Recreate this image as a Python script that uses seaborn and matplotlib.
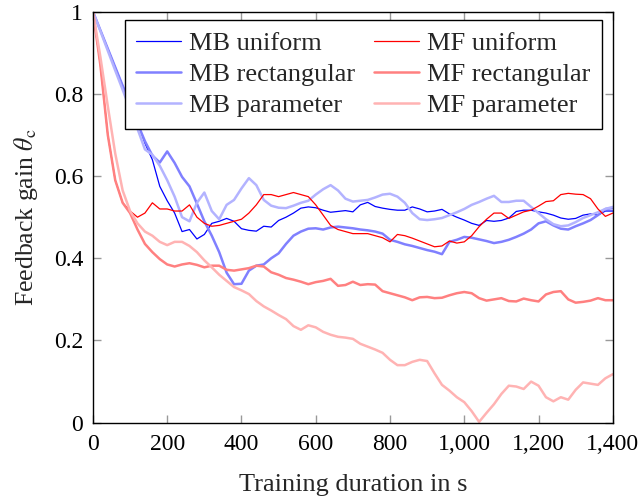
import numpy as np
import pandas as pd
import matplotlib
matplotlib.use("Agg")
import matplotlib.pyplot as plt
import seaborn as sns

# Training time grid (s)
time_s = np.arange(0, 1401, 20)

mb_uniform = [
    1.0, 0.955, 0.91, 0.865, 0.82, 0.775, 0.73, 0.68, 0.64, 0.575,
    0.54, 0.51, 0.465, 0.47, 0.447, 0.458, 0.485, 0.49, 0.497, 0.49,
    0.472, 0.468, 0.466, 0.478, 0.476, 0.492, 0.50, 0.51, 0.522, 0.525,
    0.523, 0.517, 0.512, 0.514, 0.516, 0.513, 0.53, 0.536, 0.526, 0.522,
    0.519, 0.517, 0.517, 0.525, 0.52, 0.513, 0.515, 0.519, 0.508, 0.50,
    0.493, 0.485, 0.48, 0.492, 0.49, 0.492, 0.498, 0.514, 0.517, 0.517,
    0.513, 0.51, 0.505, 0.498, 0.495, 0.497, 0.505, 0.508, 0.505, 0.515,
    0.515,
]
mb_rectangular = [
    1.0, 0.955, 0.91, 0.865, 0.82, 0.775, 0.728, 0.685, 0.65, 0.633,
    0.66, 0.632, 0.598, 0.575, 0.533, 0.49, 0.455, 0.415, 0.365, 0.337,
    0.338, 0.37, 0.382, 0.385, 0.40, 0.412, 0.435, 0.455, 0.465, 0.472,
    0.473, 0.47, 0.475, 0.477, 0.475, 0.473, 0.47, 0.468, 0.465, 0.46,
    0.445, 0.44, 0.434, 0.43, 0.425, 0.42, 0.416, 0.41, 0.44, 0.445,
    0.452, 0.45, 0.446, 0.442, 0.437, 0.44, 0.445, 0.452, 0.46, 0.47,
    0.485, 0.49, 0.48, 0.472, 0.47, 0.478, 0.485, 0.493, 0.505, 0.52,
    0.522,
]
mb_parameter = [
    1.0, 0.953, 0.905, 0.857, 0.81, 0.762, 0.715, 0.665, 0.652, 0.625,
    0.59, 0.55, 0.50, 0.49, 0.535, 0.56, 0.515, 0.495, 0.53, 0.542,
    0.57, 0.595, 0.578, 0.542, 0.528, 0.523, 0.522, 0.528, 0.535, 0.54,
    0.555, 0.568, 0.578, 0.565, 0.545, 0.538, 0.54, 0.542, 0.548, 0.555,
    0.557, 0.55, 0.535, 0.51, 0.495, 0.493, 0.495, 0.498, 0.505, 0.512,
    0.52, 0.53, 0.537, 0.545, 0.552, 0.537, 0.537, 0.54, 0.54, 0.525,
    0.51, 0.495, 0.483, 0.478, 0.48, 0.488, 0.498, 0.505, 0.512, 0.52,
    0.525,
]
mf_uniform = [
    1.0, 0.87, 0.70, 0.59, 0.535, 0.515, 0.50, 0.51, 0.535, 0.52,
    0.52, 0.515, 0.515, 0.53, 0.50, 0.485, 0.478, 0.48, 0.485, 0.49,
    0.495, 0.51, 0.53, 0.555, 0.555, 0.55, 0.555, 0.56, 0.555, 0.55,
    0.53, 0.505, 0.48, 0.47, 0.465, 0.46, 0.46, 0.46, 0.455, 0.45,
    0.44, 0.458, 0.455, 0.449, 0.442, 0.435, 0.428, 0.43, 0.442, 0.437,
    0.44, 0.455, 0.477, 0.495, 0.51, 0.51, 0.497, 0.505, 0.513, 0.517,
    0.527, 0.538, 0.54, 0.555, 0.558, 0.556, 0.555, 0.545, 0.52, 0.502,
    0.51,
]
mf_rectangular = [
    1.0, 0.87, 0.70, 0.59, 0.535, 0.51, 0.47, 0.435, 0.415, 0.398,
    0.385, 0.38, 0.385, 0.388, 0.384, 0.378, 0.382, 0.382, 0.372, 0.37,
    0.373, 0.376, 0.382, 0.38, 0.366, 0.36, 0.352, 0.348, 0.343, 0.337,
    0.342, 0.345, 0.35, 0.333, 0.335, 0.343, 0.335, 0.337, 0.336, 0.32,
    0.315, 0.31, 0.305, 0.298, 0.305, 0.306, 0.303, 0.304, 0.31, 0.315,
    0.318, 0.315, 0.303, 0.297, 0.30, 0.303, 0.296, 0.295, 0.302, 0.298,
    0.295, 0.312, 0.318, 0.32, 0.30, 0.292, 0.294, 0.297, 0.303, 0.298,
    0.298,
]
mf_parameter = [
    1.0, 0.89, 0.77, 0.655, 0.565, 0.515, 0.485, 0.465, 0.455, 0.44,
    0.432, 0.44, 0.44, 0.43, 0.415, 0.395, 0.378, 0.36, 0.345, 0.33,
    0.322, 0.313, 0.296, 0.283, 0.273, 0.262, 0.252, 0.235, 0.226, 0.237,
    0.232, 0.221, 0.214, 0.209, 0.207, 0.204, 0.192, 0.185, 0.178, 0.17,
    0.153, 0.14, 0.14, 0.148, 0.153, 0.15, 0.12, 0.092, 0.078, 0.062,
    0.05, 0.028, 0.002, 0.024, 0.045, 0.07, 0.09, 0.088, 0.082, 0.1,
    0.09, 0.062, 0.052, 0.062, 0.056, 0.08, 0.098, 0.095, 0.092, 0.108,
    0.118,
]

series_names = ["MB uniform", "MB rectangular", "MB parameter",
                "MF uniform", "MF rectangular", "MF parameter"]
series_values = [mb_uniform, mb_rectangular, mb_parameter,
                 mf_uniform, mf_rectangular, mf_parameter]
line_colors = ["#0000ff", "#8080ff", "#b3b3ff",
               "#ff0000", "#ff8080", "#ffb3b3"]
line_widths = [0.9, 1.8, 1.8, 0.9, 1.8, 1.8]

x_ticks = [0, 200, 400, 600, 800, 1000, 1200, 1400]
x_tick_labels = ["0", "200", "400", "600", "800", "1,000", "1,200", "1,400"]
y_ticks = [0, 0.2, 0.4, 0.6, 0.8, 1.0]
y_tick_labels = ["0", "0.2", "0.4", "0.6", "0.8", "1"]

frames = []
for name, vals in zip(series_names, series_values):
    frames.append(pd.DataFrame({"time": time_s, "gain": vals, "method": name}))
data = pd.concat(frames, ignore_index=True)

sns.set_theme(style="ticks")
plt.rcParams["font.family"] = ["Liberation Serif", "DejaVu Serif"]
plt.rcParams["mathtext.fontset"] = "stix"

fig = plt.figure(figsize=(6.41, 4.97), dpi=100)
ax = fig.add_axes([0.145, 0.1495, 0.811, 0.827])

for name, color, lw in zip(series_names, line_colors, line_widths):
    sub = data[data["method"] == name]
    sns.lineplot(data=sub, x="time", y="gain", ax=ax, color=color,
                 linewidth=lw, label=name, estimator=None)

ax.set_xlim(0, 1400)
ax.set_ylim(0, 1)
ax.set_xticks(x_ticks)
ax.set_xticklabels(x_tick_labels)
ax.set_yticks(y_ticks)
ax.set_yticklabels(y_tick_labels)
ax.tick_params(direction="in", length=6, width=1, color="#999999",
               top=True, right=True, labelsize=17, labelcolor="black")
ax.tick_params(axis="x", pad=8)
ax.tick_params(axis="y", pad=7)
for side in ax.spines.values():
    side.set_color("black")
    side.set_linewidth(1.0)

ax.set_xlabel("Training duration in s", fontsize=19, labelpad=14)
ax.set_ylabel(r"Feedback gain $\theta_\mathrm{c}$", fontsize=18.5, labelpad=10)

leg = ax.legend(ncol=2, loc="upper right", bbox_to_anchor=(0.979, 0.98),
                fontsize=19, frameon=True, fancybox=False, framealpha=1,
                edgecolor="black", handlelength=1.7, labelspacing=0.28,
                columnspacing=0.7, borderpad=0.45, handletextpad=0.3,
                borderaxespad=0)
leg.get_frame().set_linewidth(1.0)

fig.savefig("out.png", dpi=100)
